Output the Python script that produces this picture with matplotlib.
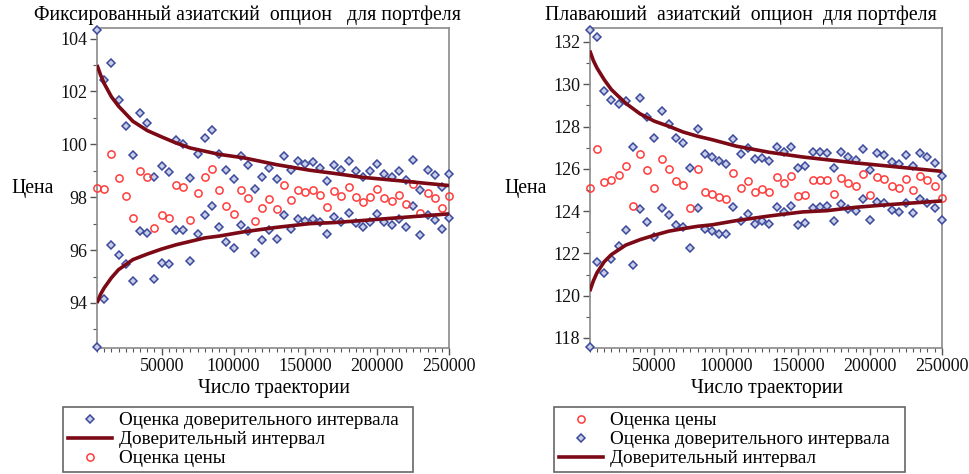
import matplotlib
matplotlib.use('Agg')
import matplotlib.pyplot as plt
from matplotlib.lines import Line2D
from matplotlib.ticker import MultipleLocator

plt.rcParams['font.family'] = ['Liberation Serif', 'DejaVu Serif']
plt.rcParams['font.serif'] = ['Liberation Serif', 'DejaVu Serif']

# ---------------- data ----------------
n_paths = list(range(5000, 250001, 5000))

left_title = "Фиксированный азиатский  опцион   для портфеля"
right_title = "Плаваюший  азиатский  опцион  для портфеля"
y_label = "Цена"
x_label = "Число траектории"
lab_ci_est = "Оценка доверительного интервала"
lab_ci = "Доверительный интервал"
lab_price = "Оценка цены"

L_upper = [104.32, 102.45, 103.08, 101.68, 100.68, 99.60, 101.20, 100.82, 98.75, 99.17,
           98.97, 100.17, 100.02, 98.72, 99.65, 100.24, 100.53, 99.64, 99.01, 98.69,
           99.56, 99.20, 98.30, 98.78, 99.09, 98.68, 99.57, 99.01, 99.36, 99.26,
           99.32, 99.12, 98.63, 99.23, 99.03, 99.38, 98.98, 98.75, 98.98, 99.25,
           98.89, 98.75, 98.98, 98.64, 99.40, 98.29, 99.03, 98.83, 98.40, 98.87]
L_price = [98.34, 98.30, 99.64, 98.74, 98.06, 97.22, 98.98, 98.75, 96.82, 97.33,
           97.20, 98.45, 98.39, 97.15, 98.14, 98.77, 99.08, 98.26, 97.66, 97.38,
           98.26, 97.96, 97.10, 97.60, 97.93, 97.56, 98.45, 97.91, 98.27, 98.19,
           98.26, 98.09, 97.62, 98.25, 98.04, 98.40, 98.01, 97.81, 98.02, 98.31,
           97.97, 97.85, 98.09, 97.75, 98.51, 97.42, 98.16, 97.98, 97.61, 98.04]
L_lower = [92.35, 94.16, 96.19, 95.80, 95.48, 94.83, 96.74, 96.66, 94.90, 95.50,
           95.46, 96.75, 96.75, 95.60, 96.62, 97.32, 97.66, 96.88, 96.32, 96.09,
           96.96, 96.71, 95.88, 96.40, 96.77, 96.41, 97.33, 96.80, 97.19, 97.11,
           97.19, 97.06, 96.60, 97.24, 97.05, 97.42, 97.03, 96.86, 97.06, 97.38,
           97.05, 96.93, 97.19, 96.88, 97.66, 96.56, 97.32, 97.13, 96.79, 97.20]

R_upper = [132.55, 132.25, 129.70, 129.23, 129.07, 129.19, 127.04, 129.37, 128.47, 127.46,
           128.72, 128.14, 127.46, 127.21, 126.06, 127.89, 126.72, 126.56, 126.36, 126.23,
           127.43, 126.69, 127.00, 126.44, 126.52, 126.36, 127.04, 126.80, 127.04, 126.06,
           126.11, 126.80, 126.80, 126.77, 126.06, 126.81, 126.55, 126.42, 126.96, 125.95,
           126.77, 126.66, 126.34, 126.23, 126.63, 126.12, 126.75, 126.56, 126.26, 125.66]
R_price = [125.08, 126.94, 125.38, 125.48, 125.71, 126.15, 124.23, 126.72, 125.96, 125.10,
           126.45, 125.98, 125.40, 125.22, 124.15, 126.01, 124.92, 124.81, 124.66, 124.58,
           125.81, 125.10, 125.44, 124.91, 125.03, 124.88, 125.60, 125.35, 125.65, 124.70,
           124.77, 125.48, 125.48, 125.49, 124.80, 125.57, 125.32, 125.19, 125.76, 124.78,
           125.60, 125.51, 125.19, 125.10, 125.51, 125.02, 125.65, 125.49, 125.21, 124.62]
R_lower = [117.59, 121.61, 121.06, 121.72, 122.34, 123.11, 121.44, 124.09, 123.47, 122.76,
           124.17, 123.82, 123.33, 123.24, 122.24, 124.15, 123.13, 123.08, 122.94, 122.91,
           124.18, 123.51, 123.88, 123.39, 123.54, 123.39, 124.18, 123.95, 124.26, 123.35,
           123.43, 124.17, 124.18, 124.23, 123.54, 124.32, 124.09, 123.99, 124.55, 123.60,
           124.45, 124.37, 124.07, 123.96, 124.39, 123.90, 124.59, 124.37, 124.14, 123.57]

# confidence-interval curves
curve_n = [5000, 7500, 10000, 15000, 20000, 30000, 40000, 50000, 60000, 70000,
           80000, 90000, 107000, 130000, 153000, 170000, 190000, 214000, 250000]
L_ci_up = [103.0, 102.62, 102.3, 101.8, 101.44, 100.87, 100.52, 100.28, 100.05, 99.86,
           99.74, 99.62, 99.49, 99.23, 99.02, 98.9, 98.75, 98.63, 98.44]
L_ci_lo = [94.0, 94.33, 94.57, 94.95, 95.26, 95.64, 95.85, 96.04, 96.2, 96.33,
           96.46, 96.53, 96.69, 96.86, 97.0, 97.04, 97.12, 97.22, 97.37]
R_ci_up = [131.59, 131.12, 130.77, 130.22, 129.75, 129.1, 128.6, 128.25, 128.01, 127.74,
           127.54, 127.38, 127.07, 126.78, 126.56, 126.43, 126.28, 126.12, 125.88]
R_ci_lo = [120.21, 120.7, 121.08, 121.6, 121.94, 122.39, 122.65, 122.86, 123.05, 123.17,
           123.28, 123.35, 123.55, 123.77, 123.96, 124.02, 124.18, 124.31, 124.48]

# ---------------- style ----------------
SERIF = ['Liberation Serif', 'DejaVu Serif']
BLUE = '#3b4a9c'
BLUE_FILL = '#c8cde8'
RED = '#ff3b3b'
DARK = '#7b0a16'
GRAY = '#8a8a8a'
FS_TICK = 13
FS_TXT = 14.2
FS_LEG = 13.8

fig = plt.figure(figsize=(9.7, 4.74), dpi=100)
axL = fig.add_axes([0.100, 0.266, 0.363, 0.675])
axR = fig.add_axes([0.608, 0.266, 0.363, 0.675])


def draw(ax, up, pr, lo, cu, cl, ylim):
    ax.plot(curve_n, cu, color=DARK, lw=2.6, zorder=4, solid_capstyle='butt')
    ax.plot(curve_n, cl, color=DARK, lw=2.6, zorder=4, solid_capstyle='butt')
    for s in (up, lo):
        ax.plot(n_paths, s, linestyle='none', marker='D', ms=4.2, mfc=BLUE_FILL,
                mec=BLUE, mew=1.1, zorder=3, clip_on=False)
    ax.plot(n_paths, pr, linestyle='none', marker='o', ms=5.2, mfc='none',
            mec=RED, mew=1.1, zorder=3, clip_on=False)
    ax.set_xlim(5000, 250000)
    ax.set_ylim(*ylim)
    ax.xaxis.set_major_locator(MultipleLocator(50000))
    ax.xaxis.set_minor_locator(MultipleLocator(5000))
    ax.yaxis.set_major_locator(MultipleLocator(2))
    ax.yaxis.set_minor_locator(MultipleLocator(1))
    ax.tick_params(which='both', direction='out', colors='#555555', labelcolor='#111111',
                   labelsize=FS_TICK, top=False, right=False)
    ax.tick_params(which='major', length=5, width=1, pad=2)
    ax.tick_params(which='minor', length=3, width=0.8)
    for lab in ax.get_xticklabels() + ax.get_yticklabels():
        lab.set_fontfamily(SERIF)
    for sp in ax.spines.values():
        sp.set_color(GRAY)
        sp.set_linewidth(1.2)


draw(axL, L_upper, L_price, L_lower, L_ci_up, L_ci_lo, (92.3, 104.4))
draw(axR, R_upper, R_price, R_lower, R_ci_up, R_ci_lo, (117.53, 132.66))

W, H = 970.0, 474.0
fig.text(248 / W, 1 - 15 / H, left_title, ha='center', va='center', fontsize=FS_TXT, family=SERIF)
fig.text(741 / W, 1 - 15 / H, right_title, ha='center', va='center', fontsize=FS_TXT, family=SERIF)
fig.text(33 / W, 1 - 189 / H, y_label, ha='center', va='center', fontsize=FS_TXT, family=SERIF)
fig.text(526 / W, 1 - 189 / H, y_label, ha='center', va='center', fontsize=FS_TXT, family=SERIF)
fig.text(274 / W, 1 - 389 / H, x_label, ha='center', va='center', fontsize=FS_TXT, family=SERIF)
fig.text(767 / W, 1 - 389 / H, x_label, ha='center', va='center', fontsize=FS_TXT, family=SERIF)

h_ci_est = Line2D([], [], linestyle='none', marker='D', ms=4.2, mfc=BLUE_FILL, mec=BLUE, mew=1.1)
h_ci = Line2D([], [], color=DARK, lw=2.6)
h_price = Line2D([], [], linestyle='none', marker='o', ms=5.2, mfc='none', mec=RED, mew=1.1)


def legend(ax, handles, labels, x0, x1):
    lg = ax.legend(handles, labels, loc='lower left', mode='expand',
                   bbox_to_anchor=(x0 / W, 2 / H, (x1 - x0) / W, 66 / H),
                   bbox_transform=fig.transFigure, fancybox=False, framealpha=1,
                   edgecolor='#666666', prop={'family': SERIF, 'size': FS_LEG},
                   handlelength=2.3, handletextpad=0.35,
                   labelspacing=0.08, borderpad=0.25, borderaxespad=0)
    lg.get_frame().set_linewidth(1.2)


legend(axL, [h_ci_est, h_ci, h_price], [lab_ci_est, lab_ci, lab_price], 63, 413)
legend(axR, [h_price, h_ci_est, h_ci], [lab_price, lab_ci_est, lab_ci], 554, 905)

fig.savefig('out.png', dpi=100)
